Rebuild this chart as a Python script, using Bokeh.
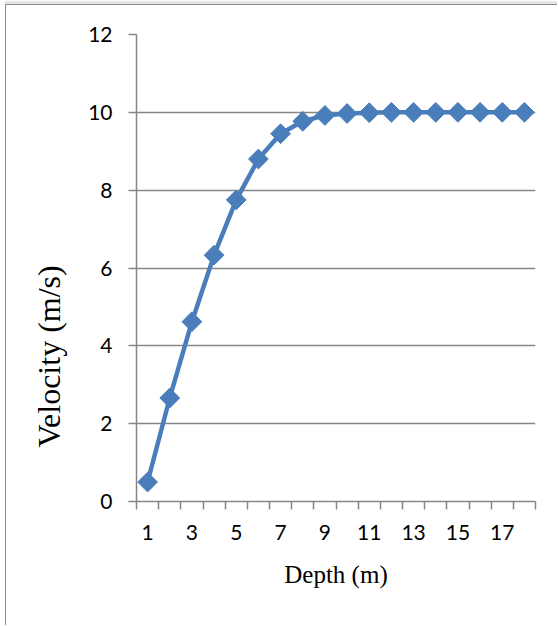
from bokeh.plotting import figure
from bokeh.models import Range1d, FixedTicker, ColumnDataSource, Title
from bokeh.embed import file_html
from bokeh.resources import INLINE
import math

# Data
depth = list(range(1, 19))
velocity = [0.5, 2.66, 4.62, 6.33, 7.75, 8.80, 9.45, 9.77, 9.92, 9.97, 9.99,
            10.0, 10.0, 10.0, 10.0, 10.0, 10.0, 10.0]
x_tick_labels = [1, 3, 5, 7, 9, 11, 13, 15, 17]
y_ticks = [0, 2, 4, 6, 8, 10, 12]
x_title = "Depth (m)"
y_title = "Velocity (m/s)"

BLUE = "#4A7EBB"
GRAY = "#868686"

src = ColumnDataSource(dict(depth=depth, velocity=velocity))

p = figure(width=552, height=621, output_backend="svg", toolbar_location=None,
           x_range=Range1d(0.5, 18.5), y_range=Range1d(0, 12),
           min_border_left=130, min_border_right=23, min_border_top=29,
           min_border_bottom=125)
p.margin = (4, 0, 0, 5)
p.styles = {"border-left": "1px solid #8c8c8c", "border-top": "1px solid #8c8c8c",
            "box-shadow": "0 -3px 0 0 #e4e4e4"}
p.outline_line_color = None
p.background_fill_color = "white"
p.border_fill_color = "white"

# grid
p.xgrid.grid_line_color = None
p.ygrid.grid_line_color = GRAY
p.ygrid.grid_line_width = 1.5
p.ygrid.ticker = FixedTicker(ticks=y_ticks)

# x axis
xa = p.xaxis[0]
xa.ticker = FixedTicker(ticks=x_tick_labels,
                        minor_ticks=[d - 0.5 for d in depth] + [depth[-1] + 0.5])
xa.major_tick_line_color = None
xa.major_tick_out = 8
xa.major_tick_in = 0
xa.minor_tick_line_color = GRAY
xa.minor_tick_line_width = 1.5
xa.minor_tick_out = 8
xa.minor_tick_in = 0
xa.axis_line_color = GRAY
xa.axis_line_width = 1.5
xa.major_label_text_font = "Lato"
xa.major_label_text_font_size = "21px"
xa.major_label_text_color = "black"
xa.major_label_standoff = 15
xa.axis_label = x_title
xa.axis_label_text_font = "Liberation Serif"
xa.axis_label_text_font_size = "25px"
xa.axis_label_text_font_style = "normal"
xa.axis_label_text_color = "black"
xa.axis_label_standoff = 18

# y axis
ya = p.yaxis[0]
ya.ticker = FixedTicker(ticks=y_ticks)
ya.major_tick_line_color = GRAY
ya.major_tick_line_width = 1.5
ya.major_tick_out = 8
ya.major_tick_in = 0
ya.minor_tick_line_color = None
ya.axis_line_color = GRAY
ya.axis_line_width = 1.5
ya.major_label_text_font = "Lato"
ya.major_label_text_font_size = "21px"
ya.major_label_text_color = "black"
ya.major_label_standoff = 16

# y title placed like the original (below frame centre)
p.add_layout(Title(text=y_title, align="left", offset=54, standoff=37,
                   text_font="Liberation Serif", text_font_size="32px",
                   text_font_style="normal", text_color="black"), "left")

# series
p.line("depth", "velocity", source=src, line_color=BLUE, line_width=4.5)
p.scatter("depth", "velocity", source=src, marker="square", size=14,
          angle=math.pi / 4, fill_color=BLUE, line_color=BLUE)

open("out.html", "w").write(file_html(p, INLINE))
